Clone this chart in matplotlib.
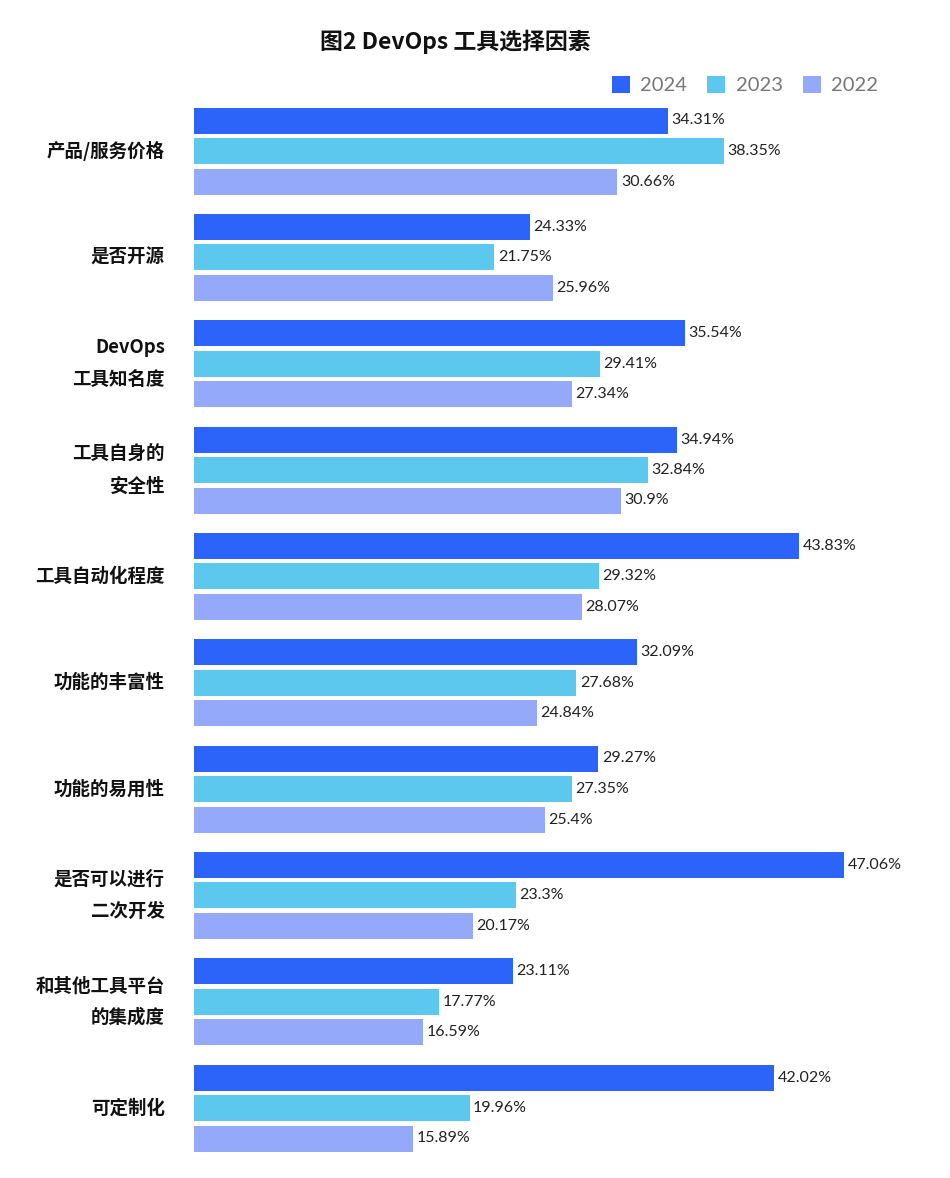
import matplotlib.pyplot as plt
import numpy as np

plt.rcParams['font.family'] = ['Noto Sans CJK SC', 'DejaVu Sans']

# data
categories = ['产品/服务价格', '是否开源', 'DevOps\n工具知名度', '工具自身的\n安全性',
              '工具自动化程度', '功能的丰富性', '功能的易用性', '是否可以进行\n二次开发',
              '和其他工具平台\n的集成度', '可定制化']
years = ['2024', '2023', '2022']
values_2024 = [34.31, 24.33, 35.54, 34.94, 43.83, 32.09, 29.27, 47.06, 23.11, 42.02]
values_2023 = [38.35, 21.75, 29.41, 32.84, 29.32, 27.68, 27.35, 23.3, 17.77, 19.96]
values_2022 = [30.66, 25.96, 27.34, 30.9, 28.07, 24.84, 25.4, 20.17, 16.59, 15.89]
colors = ['#2c63f8', '#5dc8ee', '#95a9fa']

W, H = 950, 1178
fig = plt.figure(figsize=(W / 100, H / 100), dpi=100)

# axes placed in pixel terms: left edge at bar start, top/bottom from group spacing
left, right, top, bottom = 194, 935, 100, 1160
ax = fig.add_axes([left / W, 1 - bottom / H, (right - left) / W, (bottom - top) / H])

px_per_group = (1108 - 151) / 9
ax.set_ylim(9 + (bottom - 1108) / px_per_group, -(151 - top) / px_per_group)
xmax = 47.06 * (right - left) / 650
ax.set_xlim(0, xmax)

y = np.arange(len(categories))
offset = 30.5 / px_per_group
height = 26 / px_per_group

series = [values_2024, values_2023, values_2022]
bars_list = []
for k, (vals, col, yr) in enumerate(zip(series, colors, years)):
    bars = ax.barh(y + (k - 1) * offset, vals, height=height, color=col, label=yr)
    bars_list.append(bars)
    for yy, v in zip(y + (k - 1) * offset, vals):
        ax.text(v + 0.25, yy, f'{v:g}%', va='center', ha='left', fontsize=11.5,
                family=['Lato', 'DejaVu Sans'], color='#222222')

x_label = -29 * xmax / (right - left)
for yy, cat in zip(y, categories):
    ax.text(x_label, yy, cat, ha='right', va='center',
            fontsize=13.3, fontweight='bold', linespacing=1.85, color='#111111')

ax.axis('off')

fig.text(455 / W, 1 - 42 / H, '图2 DevOps 工具选择因素', ha='center', va='center',
         fontsize=16.5, fontweight='bold', fontstyle='italic', color='#111111')

fig.legend(handles=bars_list, labels=years, loc='upper right',
           bbox_to_anchor=(896 / W, 1 - 58 / H), ncol=3, frameon=False,
           handlelength=0.9, handleheight=0.9, handletextpad=0.5, columnspacing=1.0,
           prop={'family': ['Lato', 'DejaVu Sans'], 'size': 14.5}, labelcolor='#777777')

fig.savefig('out.png', dpi=100)
